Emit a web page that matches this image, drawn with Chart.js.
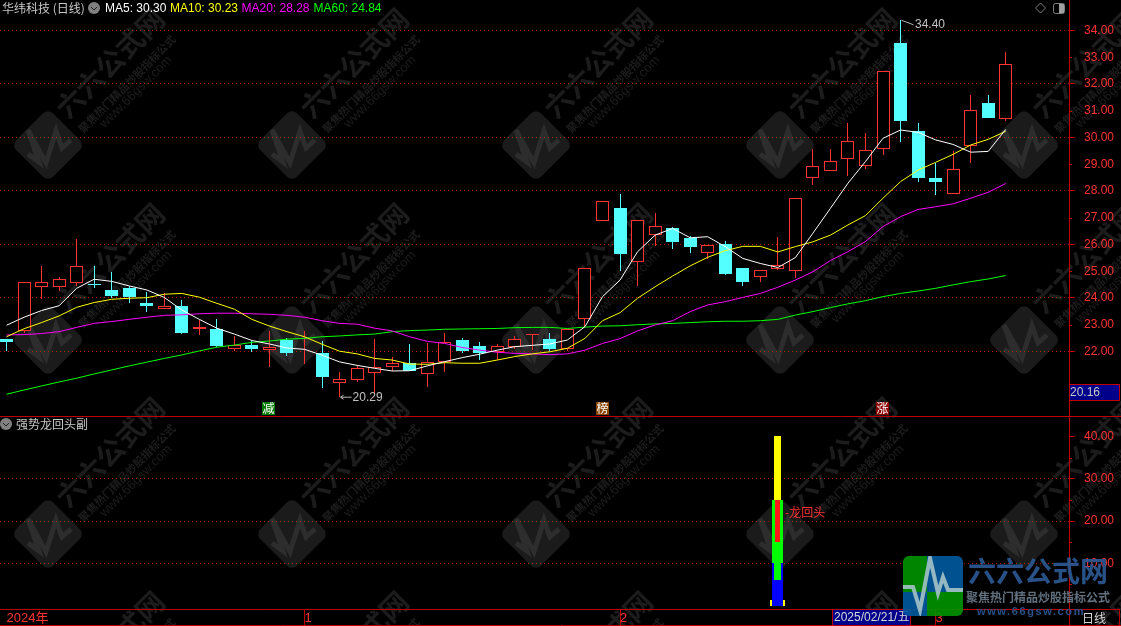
<!DOCTYPE html>
<html><head><meta charset="utf-8">
<style>html,body{margin:0;padding:0;background:#000}canvas{display:block}</style>
<script src="https://cdn.jsdelivr.net/npm/chart.js@4"></script>
</head><body><canvas id="c" width="1121" height="626"></canvas>
<script>
const opens  =[22.47,22.78,24.42,24.42,24.57,24.51,24.30,24.37,23.81,23.60,23.70,22.85,22.84,22.10,22.24,22.06,22.43,21.93,21.94,20.83,20.95,21.21,21.41,21.56,21.17,21.62,22.42,22.20,21.97,22.18,22.62,22.47,22.10,23.20,26.87,27.36,25.36,26.34,26.60,26.24,25.69,26.02,25.12,24.80,25.08,25.02,28.50,28.76,29.21,28.95,29.56,33.53,30.23,28.49,27.90,29.69,31.29,30.70];
const closes =[22.37,24.59,24.59,24.70,25.18,24.47,24.07,24.04,23.70,23.70,22.69,22.92,22.21,22.24,22.09,22.17,21.94,21.95,21.05,20.96,21.37,21.41,21.56,21.28,21.62,22.37,22.02,21.94,22.19,22.45,22.67,22.09,22.83,25.11,27.61,25.64,26.90,26.68,26.09,25.91,25.97,24.90,24.60,25.03,25.22,27.73,28.92,29.11,29.86,29.52,32.47,30.63,28.49,28.34,28.81,31.01,30.73,32.74];
const highs  =[22.47,24.59,25.20,24.80,26.21,25.20,24.97,24.46,24.22,24.18,23.93,23.18,23.21,22.58,22.39,22.77,22.50,22.77,22.39,21.22,21.48,22.47,21.79,22.28,22.31,22.68,22.49,22.34,22.28,22.58,22.67,22.69,22.83,25.11,27.61,27.89,26.90,27.18,26.65,26.32,25.97,26.13,25.12,25.03,26.28,27.73,29.57,29.57,30.54,30.17,32.47,34.40,30.54,29.05,29.50,31.59,31.59,33.20];
const lows   =[22.03,22.70,23.97,24.27,24.46,24.39,23.99,23.82,23.49,23.60,22.65,22.62,22.16,22.02,21.98,21.42,21.83,21.53,20.64,20.29,20.87,20.37,21.26,21.28,20.68,21.25,21.94,21.68,21.68,22.10,22.06,22.02,22.02,22.93,26.87,25.02,24.45,25.94,25.83,25.68,25.47,24.86,24.45,24.60,25.05,24.76,28.22,28.76,28.56,28.82,29.35,29.83,28.34,27.85,27.90,29.05,30.73,30.63];
const ma5  =[22.98,23.28,23.53,23.71,24.36,24.70,24.62,24.45,24.30,24.02,23.55,23.20,22.87,22.65,22.41,22.28,22.13,22.08,21.86,21.61,21.48,21.37,21.27,21.28,21.46,21.62,21.77,21.90,22.05,22.18,22.23,22.28,22.43,22.93,24.05,24.67,25.73,26.35,26.60,26.25,26.29,25.92,25.48,25.29,25.14,25.51,26.42,27.35,28.29,29.10,29.97,30.28,30.19,29.91,29.74,29.45,29.48,30.30];
const ma10 =[22.55,22.85,23.08,23.33,23.65,23.83,23.95,23.99,24.01,24.14,24.17,24.03,23.80,23.58,23.20,22.95,22.74,22.55,22.27,22.01,21.91,21.74,21.68,21.53,21.52,21.58,21.56,21.56,21.68,21.81,21.91,21.99,22.12,22.49,23.15,23.45,23.99,24.42,24.82,25.20,25.52,25.77,25.93,25.93,25.72,25.92,26.10,26.35,26.73,27.08,27.73,28.35,28.78,29.07,29.37,29.72,29.93,30.23];
const ma20 =[22.62,22.63,22.67,22.74,22.90,23.05,23.12,23.20,23.28,23.35,23.37,23.41,23.43,23.43,23.41,23.39,23.35,23.28,23.15,23.05,23.02,22.87,22.77,22.55,22.38,22.30,22.15,22.05,21.97,21.93,21.91,21.88,21.91,22.05,22.30,22.48,22.77,22.99,23.15,23.49,23.74,23.86,24.02,24.17,24.40,24.67,24.98,25.40,25.73,26.11,26.67,27.04,27.31,27.41,27.52,27.73,27.95,28.28];
const ma60 =[20.40,20.56,20.71,20.86,21.00,21.16,21.31,21.46,21.60,21.74,21.87,22.02,22.16,22.24,22.34,22.39,22.46,22.49,22.55,22.58,22.62,22.65,22.74,22.78,22.80,22.83,22.84,22.85,22.86,22.89,22.90,22.90,22.86,22.91,22.95,22.96,23.00,23.03,23.05,23.08,23.11,23.13,23.13,23.15,23.20,23.36,23.49,23.64,23.78,23.90,24.05,24.17,24.26,24.36,24.49,24.61,24.71,24.84];
const priceTicks=[22,23,24,25,26,27,28,29,30,31,32,33,34];
const priceGrid=[22,24,26,28,30,32,34];
const priceMinor=[23,25,27,29,31,33];
const lowerTicks=[10,20,30,40];
const lowerGrid=[10,20,30];
const lowerMinor=[5,15,25,35];
const xTickValues=[0,17,35,53];
const xTickLabels=['2024年','1','2','3'];
const signalIndex=44;
const signalBlue=[0,10], signalGreenNarrow=[6,10], signalGreen=[10,25], signalYellow=[25,40], signalRed=[15,25], signalBase=[0,1.3];
const marks=[{i:15,t:'减',c:'#007a00'},{i:34,t:'榜',c:'#8b4500'},{i:50,t:'涨',c:'#8b0000'}];
const maNames=['MA5','MA10','MA20','MA60'];

const RED='#ff3232', CYAN='#54ffff', AXIS='#c00000', DOT='#a80000';
const FONT='"Liberation Sans","Noto Sans CJK SC"';
const CJK='"Noto Sans CJK SC","Liberation Sans"';
const xy=a=>a.map((v,i)=>({x:i,y:v}));
const isUp=i=>closes[i]>=opens[i];
function bar(data,w,bg,bd,axis,order,bw){return {type:'bar',data,barThickness:w,backgroundColor:bg,borderColor:bd,borderWidth:bw||0,yAxisID:axis,grouped:false,order,borderSkipped:false,inflateAmount:0};}
function line(data,color,order,label){return {type:'line',label,data:xy(data),borderColor:color,borderWidth:1,pointRadius:0,tension:0,yAxisID:'y',order};}
const pts=v=>[{x:signalIndex,y:v}];
const noPad=s=>{s.paddingTop=s.paddingBottom=s.paddingLeft=s.paddingRight=0;};

function text(ctx,s,x,y,color,font,align){ctx.fillStyle=color;ctx.font=font;ctx.textAlign=align||'left';ctx.textBaseline='middle';ctx.fillText(s,x,y);}
function rrect(ctx,x,y,w,h,r){ctx.beginPath();ctx.roundRect(x,y,w,h,r);}
function watermark(ctx){
  const ys=[145,340,534,728], xs=[48,292,536,780,1024];
  for(const cy of ys)for(const cx of xs){
    ctx.save();ctx.translate(cx,cy);
    ctx.save();ctx.rotate(Math.PI/4);ctx.fillStyle='#1b1b1b';rrect(ctx,-26,-26,52,52,7);ctx.fill();ctx.restore();
    ctx.strokeStyle='#2d2d2d';ctx.lineWidth=5;ctx.lineJoin='miter';ctx.beginPath();
    [[-20,9],[-9,17],[-20,-15],[-2,18],[8,-14],[14,3],[23,-5]].forEach((p,i)=>i?ctx.lineTo(p[0],p[1]):ctx.moveTo(p[0],p[1]));ctx.stroke();
    const t=(s,dx,dy,f,c)=>{ctx.save();ctx.translate(dx,dy);ctx.rotate(-Math.PI/4);ctx.fillStyle=c;ctx.font=f;ctx.textAlign='center';ctx.textBaseline='middle';ctx.fillText(s,0,0);ctx.restore();};
    t('六六公式网',62,-82,'bold 28px '+CJK,'#1c1c1c');
    t('聚焦热门精品炒股指标公式',79,-61,'bold 11px '+CJK,'#1d1d1d');
    t('www.66gsw.com',88,-53,'13px "Liberation Sans"','#1c1c1c');
    ctx.restore();
  }
}
function chevron(ctx,x,y){ctx.fillStyle='#808080';ctx.beginPath();ctx.arc(x,y,6,0,7);ctx.fill();ctx.strokeStyle='#222';ctx.lineWidth=1;ctx.beginPath();ctx.moveTo(x-3,y-1);ctx.lineTo(x,y+2);ctx.lineTo(x+3,y-1);ctx.stroke();}
function hline(ctx,x0,x1,y,c){ctx.strokeStyle=c;ctx.lineWidth=1;ctx.beginPath();ctx.moveTo(x0,y+.5);ctx.lineTo(x1,y+.5);ctx.stroke();}
function vline(ctx,x,y0,y1,c){ctx.strokeStyle=c;ctx.lineWidth=1;ctx.beginPath();ctx.moveTo(x+.5,y0);ctx.lineTo(x+.5,y1);ctx.stroke();}

const overlay={id:'overlay',
  beforeDraw(ch){const ctx=ch.ctx;ctx.save();ctx.fillStyle='#000';ctx.fillRect(0,0,1121,626);watermark(ctx);ctx.restore();},
  beforeDatasetsDraw(ch){
    ch.data.datasets.forEach((d,k)=>{const m=ch.getDatasetMeta(k);if(m.type!=='bar')return;
      m.data.forEach(el=>{el.x=Math.floor(el.x)+.5;el.y=Math.round(el.y);el.base=Math.round(el.base);});});
  },
  afterDraw(ch){
    const ctx=ch.ctx,X=ch.scales.x,Y=ch.scales.y,L=ch.scales.yLow;ctx.save();
    hline(ctx,0,1121,416,AXIS);hline(ctx,0,1121,625,AXIS);vline(ctx,1069,0,626,AXIS);
    vline(ctx,1119,609,626,AXIS);hline(ctx,1069,1120,609,AXIS);
    priceMinor.forEach(v=>hline(ctx,1069,1072,Math.round(Y.getPixelForValue(v)),AXIS));
    lowerMinor.forEach(v=>hline(ctx,1069,1072,Math.round(L.getPixelForValue(v)),AXIS));
    text(ctx,'华纬科技 (日线)',2,8.5,'#c8c8c8','12px '+CJK);chevron(ctx,94,8);
    const last=[ma5,ma10,ma20,ma60].map(a=>a[a.length-1].toFixed(2));
    const cols=['#ffffff','#ffff00','#ff00ff','#00ff00'],lx=[105,170,241.5,313.5];
    maNames.forEach((n,i)=>text(ctx,n+': '+last[i],lx[i],8.5,cols[i],'12px '+FONT));
    text(ctx,'强势龙回头副',16,424.5,'#c8c8c8','12px '+CJK);chevron(ctx,6,424);
    ctx.strokeStyle='#808080';ctx.beginPath();ctx.moveTo(1040.5,3);ctx.lineTo(1045.5,8);ctx.lineTo(1040.5,13);ctx.lineTo(1035.5,8);ctx.closePath();ctx.stroke();
    rrect(ctx,1053.5,3.5,11,10,2);ctx.stroke();ctx.fillStyle='#a0a0a0';ctx.fillRect(1059,4,5,9);
    const hx=X.getPixelForValue(51),hy=Y.getPixelForValue(highs[51]);
    ctx.strokeStyle='#b8b8b8';ctx.beginPath();ctx.moveTo(hx+1,hy+.5);ctx.lineTo(hx+13,hy+5);ctx.stroke();
    text(ctx,highs[51].toFixed(2),915,24.5,'#c0c0c0','12px '+FONT);
    const lx2=X.getPixelForValue(19),ly=Y.getPixelForValue(lows[19]);
    ctx.beginPath();ctx.moveTo(lx2+1,ly);ctx.lineTo(lx2+12,ly);ctx.moveTo(lx2+1,ly);ctx.lineTo(lx2+4,ly-2);ctx.moveTo(lx2+1,ly);ctx.lineTo(lx2+4,ly+2);ctx.stroke();
    text(ctx,lows[19].toFixed(2),lx2+13,ly+.5,'#c0c0c0','12px '+FONT);
    marks.forEach(m=>{const x=Math.round(X.getPixelForValue(m.i))-7;ctx.fillStyle=m.c;ctx.fillRect(x,402,13,13);text(ctx,m.t,x+6.5,408.5,'#fff','12px '+CJK,'center');});
    ctx.fillStyle='#00008b';ctx.fillRect(1070,385,49,15);ctx.strokeStyle=AXIS;ctx.strokeRect(1069.5,384.5,50,16);
    text(ctx,'20.16',1070,393,'#c8c8c8','12px '+FONT);
    text(ctx,'-龙回头',785,512.5,RED,'12px '+CJK);
    ctx.fillStyle='#00008b';ctx.fillRect(833,610,77,15);ctx.strokeStyle=AXIS;ctx.strokeRect(832.5,609.5,78,16);
    text(ctx,'2025/02/21/五',834,618,'#d8d8d8','12px '+FONT);
    text(ctx,'日线',1082,618,'#d8d8d8','12px '+CJK);
    ctx.globalAlpha=.9;
    ctx.save();rrect(ctx,903,556,60,60,6);ctx.clip();
    ctx.fillStyle='#009400';ctx.fillRect(903,556,24,36);ctx.fillRect(927,592,36,24);
    ctx.fillStyle='#005a9e';ctx.fillRect(927,556,36,36);ctx.fillRect(903,592,24,24);
    ctx.strokeStyle='#a5c2c8';ctx.lineWidth=4;ctx.beginPath();
    [[903,587],[913,587],[920,610],[930,558],[938,593],[943,577],[948,590],[963,590]].forEach((p,i)=>i?ctx.lineTo(p[0],p[1]):ctx.moveTo(p[0],p[1]));ctx.stroke();ctx.restore();
    ctx.letterSpacing='0px';text(ctx,'六六公式网',968,571,'#2c5a96','bold 28px '+CJK);
    text(ctx,'聚焦热门精品炒股指标公式',966,597,'#6b7c8c','bold 12px '+CJK);
    ctx.letterSpacing='1.6px';text(ctx,'www.66gsw.com',977,612,'#2c5a96','bold 11px "Liberation Sans"');ctx.letterSpacing='0px';
    ctx.restore();
  }
};

new Chart(document.getElementById('c'),{
  type:'bar',
  data:{datasets:[
    line(ma60,'#00ff00',3,'MA60'),
    line(ma20,'#ff00ff',2,'MA20'),
    line(ma10,'#ffff00',1,'MA10'),
    line(ma5,'#ffffff',0,'MA5'),
    bar(opens.map((o,i)=>({x:i,y:[o,closes[i]]})),13,opens.map((o,i)=>isUp(i)?'#000':CYAN),opens.map((o,i)=>isUp(i)?RED:CYAN),'y',5,1),
    bar(lows.map((l,i)=>({x:i,y:[l,highs[i]]})),1,opens.map((o,i)=>isUp(i)?RED:CYAN),'transparent','y',6),
    bar(pts(signalBase),15,'#ffff00','transparent','yLow',14),
    bar(pts(signalBlue),11,'#0000ff','transparent','yLow',13),
    bar(pts(signalGreenNarrow),7,'#00ff00','transparent','yLow',12),
    bar(pts(signalGreen),11,'#00ff00','transparent','yLow',11),
    bar(pts(signalYellow),7,'#ffff00','transparent','yLow',10),
    bar(pts(signalRed),5,'#ff1a1a','transparent','yLow',9)
  ]},
  options:{
    responsive:false,devicePixelRatio:1,animation:false,
    layout:{padding:0,autoPadding:false},
    plugins:{legend:{display:false},tooltip:{enabled:false},title:{display:false}},
    scales:{
      x:{type:'linear',min:-0.371,max:60.61,offset:false,position:'bottom',
        afterBuildTicks:s=>{s.ticks=xTickValues.map(v=>({value:v}));},
        afterFit:s=>{s.height=17;noPad(s);},
        grid:{offset:false,drawOnChartArea:false,tickLength:17,tickColor:c=>c.index===0?'transparent':AXIS,color:'transparent'},
        border:{display:true,color:AXIS},
        ticks:{autoSkip:false,maxRotation:0,align:'start',padding:-15,color:RED,font:{family:FONT,size:13},
          callback:v=>xTickLabels[xTickValues.indexOf(v)]}},
      y:{position:'right',stack:'panels',stackWeight:417,weight:1,min:19.55,max:35.14,
        afterBuildTicks:s=>{s.ticks=priceTicks.map(v=>({value:v}));},
        afterFit:s=>{s.width=52;noPad(s);},
        grid:{color:c=>c.tick&&priceGrid.includes(c.tick.value)?DOT:'transparent',tickColor:c=>c.tick&&priceGrid.includes(c.tick.value)?AXIS:'transparent',tickLength:6,tickBorderDash:[]},
        border:{display:false,dash:[1,3]},
        ticks:{autoSkip:false,color:RED,padding:9,font:{family:FONT,size:12},callback:v=>Number(v).toFixed(2)}},
      yLow:{position:'right',stack:'panels',stackWeight:192,weight:2,min:-0.8,max:44.6,
        afterBuildTicks:s=>{s.ticks=lowerTicks.map(v=>({value:v}));},
        afterFit:s=>{s.width=52;noPad(s);},
        grid:{color:c=>c.tick&&lowerGrid.includes(c.tick.value)?DOT:'transparent',tickColor:AXIS,tickLength:6,tickBorderDash:[]},
        border:{display:false,dash:[1,3]},
        ticks:{autoSkip:false,color:RED,padding:9,font:{family:FONT,size:12},callback:v=>Number(v).toFixed(2)}}
    }
  },
  plugins:[overlay]
});
</script></body></html>
